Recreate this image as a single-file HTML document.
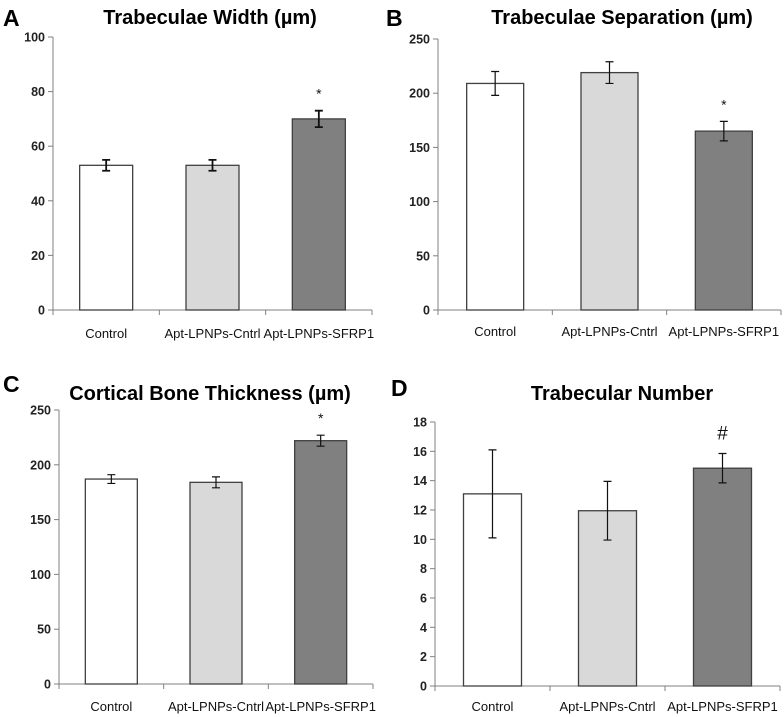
<!DOCTYPE html>
<html><head><meta charset="utf-8">
<style>
html,body{margin:0;padding:0;background:#fff;}
svg{display:block;font-family:"Liberation Sans",Arial,sans-serif;}
</style></head>
<body>
<svg id="fig" width="784" height="717" viewBox="0 0 784 717"></svg>
<script>
const categories = ["Control","Apt-LPNPs-Cntrl","Apt-LPNPs-SFRP1"];
const valuesA = [53, 53, 70];
const errorsA = [2, 2, 3];
const valuesB = [209, 219, 165];
const errorsB = [11, 10, 9];
const valuesC = [187, 184, 222];
const errorsC = [4, 5, 5];
const valuesD = [13.1, 11.95, 14.85];
const errorsD = [3.0, 2.0, 1.0];
const ticksA = [0,20,40,60,80,100];
const ticksB = [0,50,100,150,200,250];
const ticksC = [0,50,100,150,200,250];
const ticksD = [0,2,4,6,8,10,12,14,16,18];
const marksA = ["","","*"];
const marksB = ["","","*"];
const marksC = ["","","*"];
const marksD = ["","","#"];

const fills = ["#ffffff","#d9d9d9","#808080"];
const NS = "http://www.w3.org/2000/svg";
const svg = document.getElementById("fig");

function mk(tag, attrs, parent, text){
  const e = document.createElementNS(NS, tag);
  for (const k in attrs) e.setAttribute(k, attrs[k]);
  if (text !== undefined) e.textContent = text;
  (parent||svg).appendChild(e);
  return e;
}

const panels = [
  {id:"a", letter:"A", lx:3, ly:26, title:"Trabeculae Width (µm)", tx:210, ty:24,
   x0:53, x1:372, yTop:37, yBot:310, max:100, ticks:ticksA, vals:valuesA, errs:errorsA, marks:marksA, bw:53, cap:4, ew:1.8, labY:338},
  {id:"b", letter:"B", lx:386, ly:26, title:"Trabeculae Separation (µm)", tx:622, ty:24,
   x0:438, x1:781, yTop:39, yBot:310, max:250, ticks:ticksB, vals:valuesB, errs:errorsB, marks:marksB, bw:57, cap:4, ew:1.2, labY:336},
  {id:"c", letter:"C", lx:3, ly:392, title:"Cortical Bone Thickness (µm)", tx:210, ty:400,
   x0:59, x1:373, yTop:410, yBot:684, max:250, ticks:ticksC, vals:valuesC, errs:errorsC, marks:marksC, bw:52, cap:4, ew:1.2, labY:711},
  {id:"d", letter:"D", lx:391, ly:396, title:"Trabecular Number", tx:622, ty:400,
   x0:435, x1:780, yTop:422, yBot:686, max:18, ticks:ticksD, vals:valuesD, errs:errorsD, marks:marksD, bw:58, cap:4, ew:1.2, labY:711}
];

panels.forEach(p => {
  const g = mk("g", {});
  
  
  const yS = v => p.yBot - (v / p.max) * (p.yBot - p.yTop);
  const cw = (p.x1 - p.x0) / categories.length;
  const xC = i => p.x0 + cw * (i + 0.5);

  const L = mk("text", {x:p.lx, y:p.ly, "font-size":23, "font-weight":"bold", fill:"#000"}, g, p.letter);
  
  
  const T = mk("text", {x:p.tx, y:p.ty, "font-size":20, "font-weight":"bold", "text-anchor":"middle", fill:"#000"}, g, p.title);
  
  

  const ya = mk("line", {x1:p.x0, y1:p.yTop, x2:p.x0, y2:p.yBot, stroke:"#808080", "stroke-width":1}, g);
  
  
  p.ticks.forEach(t => {
    const y = yS(t);
    mk("line", {x1:p.x0-5, y1:y, x2:p.x0, y2:y, stroke:"#808080"}, g);
    const tl = mk("text", {x:p.x0-8, y:y+4.5, "font-size":12.5, "font-weight":"bold", "text-anchor":"end", fill:"#222"}, g, String(t));
    
    
  });
  const xa = mk("line", {x1:p.x0, y1:p.yBot, x2:p.x1, y2:p.yBot, stroke:"#808080"}, g);
  
  
  for (let i = 0; i <= categories.length; i++) {
    const x = p.x0 + cw * i;
    mk("line", {x1:x, y1:p.yBot, x2:x, y2:p.yBot+5, stroke:"#808080"}, g);
  }
  categories.forEach((c, i) => {
    const v = p.vals[i], e = p.errs[i], cx = xC(i);
    const r = mk("rect", {x:cx-p.bw/2, y:yS(v), width:p.bw, height:p.yBot-yS(v), fill:fills[i], stroke:"#404040", "stroke-width":1.3}, g);
    
    
    const eb = mk("path", {d:`M${cx},${yS(v+e)}V${yS(v-e)}M${cx-p.cap},${yS(v+e)}H${cx+p.cap}M${cx-p.cap},${yS(v-e)}H${cx+p.cap}`, stroke:"#111", "stroke-width":p.ew, fill:"none"}, g);
    
    
    if (p.marks[i]) {
      const isHash = p.marks[i] === "#";
      const m = mk("text", {x:cx, y:yS(v+e)-(isHash?14:12), "font-size":isHash?19:14, "text-anchor":"middle", fill:"#111"}, g, p.marks[i]);
      
      
    }
    const xl = mk("text", {x:cx, y:p.labY, "font-size":13, "text-anchor":"middle", fill:"#111"}, g, c);
    
    
  });
});
</script>
</body></html>
